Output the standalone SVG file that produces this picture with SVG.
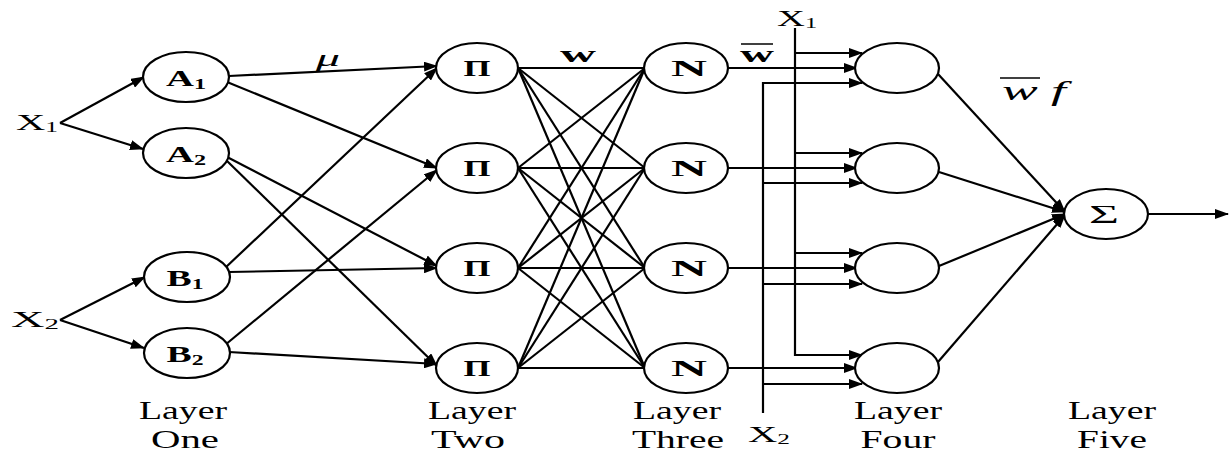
<svg xmlns="http://www.w3.org/2000/svg" width="1230" height="455" viewBox="0 0 1230 455">
<style>
  .node { fill: #fff; stroke: #000; stroke-width: 2.2; }
  .c { stroke: #000; stroke-width: 2.2; fill: none; }
  .a { stroke: #000; stroke-width: 2.2; fill: none; marker-end: url(#ah); }
  .nl { font-size: 24px; font-weight: bold; text-anchor: middle; }
  .ly { font-size: 26px; text-anchor: middle; }
  .in { font-size: 24px; }
  .sub { font-size: 15px; }
  .it { font-style: italic; }
</style>
<defs>
  <marker id="ah" markerUnits="userSpaceOnUse" markerWidth="14" markerHeight="10" refX="13" refY="5" orient="auto">
    <path d="M0,0 L14,5 L0,10 z" fill="#000"/>
  </marker>
</defs>

<g id="connectors">
  <line class="a" x1="60" y1="123" x2="144" y2="77"/>
  <line class="a" x1="60" y1="123" x2="143" y2="149"/>
  <line class="a" x1="60" y1="320" x2="145" y2="277"/>
  <line class="a" x1="60" y1="320" x2="144" y2="348"/>
  <line class="a" x1="229" y1="76" x2="437" y2="66"/>
  <line class="a" x1="227" y1="82" x2="437" y2="168"/>
  <line class="a" x1="227" y1="157" x2="437" y2="266"/>
  <line class="a" x1="226" y1="160" x2="437" y2="366"/>
  <line class="a" x1="225" y1="268" x2="437" y2="68"/>
  <line class="a" x1="229" y1="272" x2="437" y2="268"/>
  <line class="a" x1="225" y1="345" x2="437" y2="170"/>
  <line class="a" x1="229" y1="352" x2="437" y2="364"/>
  <line class="c" x1="518" y1="68" x2="645" y2="68"/>
  <line class="c" x1="518" y1="68" x2="645" y2="168"/>
  <line class="c" x1="518" y1="68" x2="645" y2="268"/>
  <line class="c" x1="518" y1="68" x2="645" y2="368"/>
  <line class="c" x1="518" y1="168" x2="645" y2="68"/>
  <line class="c" x1="518" y1="168" x2="645" y2="168"/>
  <line class="c" x1="518" y1="168" x2="645" y2="268"/>
  <line class="c" x1="518" y1="168" x2="645" y2="368"/>
  <line class="c" x1="518" y1="268" x2="645" y2="68"/>
  <line class="c" x1="518" y1="268" x2="645" y2="168"/>
  <line class="c" x1="518" y1="268" x2="645" y2="268"/>
  <line class="c" x1="518" y1="268" x2="645" y2="368"/>
  <line class="c" x1="518" y1="368" x2="645" y2="68"/>
  <line class="c" x1="518" y1="368" x2="645" y2="168"/>
  <line class="c" x1="518" y1="368" x2="645" y2="268"/>
  <line class="c" x1="518" y1="368" x2="645" y2="368"/>
  <line class="a" x1="728" y1="68" x2="857" y2="68"/>
  <line class="a" x1="728" y1="168" x2="857" y2="168"/>
  <line class="a" x1="728" y1="268" x2="857" y2="268"/>
  <line class="a" x1="728" y1="368" x2="857" y2="368"/>
  <polyline class="a" points="795,28 795,355 862,355"/>
  <line class="a" x1="795" y1="53" x2="862" y2="53"/>
  <line class="a" x1="795" y1="153" x2="862" y2="153"/>
  <line class="a" x1="795" y1="253" x2="862" y2="253"/>
  <polyline class="a" points="763,413 763,83 862,83"/>
  <line class="a" x1="763" y1="183" x2="862" y2="183"/>
  <line class="a" x1="763" y1="284" x2="862" y2="284"/>
  <line class="a" x1="763" y1="384" x2="862" y2="384"/>
  <line class="a" x1="938" y1="74" x2="1065" y2="212"/>
  <line class="a" x1="939" y1="172" x2="1065" y2="212"/>
  <line class="a" x1="939" y1="266" x2="1065" y2="214"/>
  <line class="a" x1="938" y1="362" x2="1065" y2="215"/>
  <line class="a" x1="1148" y1="214" x2="1228" y2="214"/>
  <text font-family="Liberation Serif, serif" font-style="italic" x="328" y="66" font-size="24" text-anchor="middle" textLength="24" lengthAdjust="spacingAndGlyphs">μ</text>
  <text font-family="Liberation Serif, serif" x="578" y="62" font-size="24" font-weight="bold" text-anchor="middle" textLength="36" lengthAdjust="spacingAndGlyphs">w</text>
  <text font-family="Liberation Serif, serif" x="757" y="62" font-size="24" font-weight="bold" text-anchor="middle" textLength="34" lengthAdjust="spacingAndGlyphs">w</text>
  <line x1="741" y1="44" x2="773" y2="44" stroke="#000" stroke-width="1.5"/>
  <text font-family="Liberation Serif, serif" font-style="italic" x="1002" y="100" font-size="28" textLength="64" lengthAdjust="spacingAndGlyphs">w f</text>
  <line x1="1000" y1="78" x2="1040" y2="78" stroke="#000" stroke-width="1.5"/>
  <text font-family="Liberation Serif, serif" class="in" x="777" y="26" textLength="40" lengthAdjust="spacingAndGlyphs">X<tspan class="sub" dy="2">1</tspan></text>
  <text font-family="Liberation Serif, serif" class="in" x="748" y="442" textLength="42" lengthAdjust="spacingAndGlyphs">X<tspan class="sub" dy="2">2</tspan></text>
</g>

<g id="input-x1"><text font-family="Liberation Serif, serif" class="in" x="16" y="130" textLength="42" lengthAdjust="spacingAndGlyphs">X<tspan class="sub" dy="2">1</tspan></text></g>
<g id="input-x2"><text font-family="Liberation Serif, serif" class="in" x="11" y="327" textLength="48" lengthAdjust="spacingAndGlyphs">X<tspan class="sub" dy="2">2</tspan></text></g>

<g id="A1"><ellipse class="node" cx="186" cy="77" rx="43" ry="25"/><text font-family="Liberation Serif, serif" class="nl" x="186" y="86" textLength="40" lengthAdjust="spacingAndGlyphs">A<tspan class="sub" dy="3">1</tspan></text></g>
<g id="A2"><ellipse class="node" cx="186" cy="153" rx="43" ry="25"/><text font-family="Liberation Serif, serif" class="nl" x="186" y="162" textLength="40" lengthAdjust="spacingAndGlyphs">A<tspan class="sub" dy="3">2</tspan></text></g>
<g id="B1"><ellipse class="node" cx="187" cy="277" rx="43" ry="25"/><text font-family="Liberation Serif, serif" class="nl" x="185" y="286" textLength="37" lengthAdjust="spacingAndGlyphs">B<tspan class="sub" dy="3">1</tspan></text></g>
<g id="B2"><ellipse class="node" cx="187" cy="353" rx="43" ry="25"/><text font-family="Liberation Serif, serif" class="nl" x="185" y="362" textLength="37" lengthAdjust="spacingAndGlyphs">B<tspan class="sub" dy="3">2</tspan></text></g>

<g id="P1"><ellipse class="node" cx="477" cy="68" rx="41" ry="25"/><text font-family="Liberation Serif, serif" class="nl" x="477" y="76" font-size="21" textLength="27" lengthAdjust="spacingAndGlyphs">Π</text></g>
<g id="P2"><ellipse class="node" cx="477" cy="168" rx="41" ry="25"/><text font-family="Liberation Serif, serif" class="nl" x="477" y="176" font-size="21" textLength="27" lengthAdjust="spacingAndGlyphs">Π</text></g>
<g id="P3"><ellipse class="node" cx="477" cy="268" rx="41" ry="25"/><text font-family="Liberation Serif, serif" class="nl" x="477" y="276" font-size="21" textLength="27" lengthAdjust="spacingAndGlyphs">Π</text></g>
<g id="P4"><ellipse class="node" cx="477" cy="368" rx="41" ry="25"/><text font-family="Liberation Serif, serif" class="nl" x="477" y="376" font-size="21" textLength="27" lengthAdjust="spacingAndGlyphs">Π</text></g>

<g id="N1"><ellipse class="node" cx="686" cy="68" rx="42" ry="25"/><text font-family="Liberation Serif, serif" class="nl" x="689" y="76" font-size="24" textLength="36" lengthAdjust="spacingAndGlyphs">N</text></g>
<g id="N2"><ellipse class="node" cx="686" cy="168" rx="42" ry="25"/><text font-family="Liberation Serif, serif" class="nl" x="689" y="176" font-size="24" textLength="36" lengthAdjust="spacingAndGlyphs">N</text></g>
<g id="N3"><ellipse class="node" cx="686" cy="268" rx="42" ry="25"/><text font-family="Liberation Serif, serif" class="nl" x="689" y="276" font-size="24" textLength="36" lengthAdjust="spacingAndGlyphs">N</text></g>
<g id="N4"><ellipse class="node" cx="686" cy="368" rx="42" ry="25"/><text font-family="Liberation Serif, serif" class="nl" x="689" y="376" font-size="24" textLength="36" lengthAdjust="spacingAndGlyphs">N</text></g>

<g id="L4-1"><ellipse class="node" cx="897" cy="68" rx="42" ry="25"/></g>
<g id="L4-2"><ellipse class="node" cx="897" cy="168" rx="42" ry="25"/></g>
<g id="L4-3"><ellipse class="node" cx="897" cy="268" rx="42" ry="25"/></g>
<g id="L4-4"><ellipse class="node" cx="897" cy="368" rx="42" ry="25"/></g>

<g id="Sigma"><ellipse class="node" cx="1106" cy="214" rx="42" ry="25"/><text font-family="Liberation Serif, serif" x="1104" y="223" font-size="26" text-anchor="middle" textLength="30" lengthAdjust="spacingAndGlyphs">Σ</text></g>

<g id="layer-labels" font-family="Liberation Serif, serif">
  <text class="ly" x="183" y="419" textLength="88" lengthAdjust="spacingAndGlyphs">Layer</text>
  <text class="ly" x="185" y="448" textLength="68" lengthAdjust="spacingAndGlyphs">One</text>
  <text class="ly" x="472" y="419" textLength="88" lengthAdjust="spacingAndGlyphs">Layer</text>
  <text class="ly" x="468" y="448" textLength="74" lengthAdjust="spacingAndGlyphs">Two</text>
  <text class="ly" x="677" y="419" textLength="88" lengthAdjust="spacingAndGlyphs">Layer</text>
  <text class="ly" x="678" y="448" textLength="92" lengthAdjust="spacingAndGlyphs">Three</text>
  <text class="ly" x="898" y="419" textLength="88" lengthAdjust="spacingAndGlyphs">Layer</text>
  <text class="ly" x="898" y="448" textLength="75" lengthAdjust="spacingAndGlyphs">Four</text>
  <text class="ly" x="1112" y="419" textLength="88" lengthAdjust="spacingAndGlyphs">Layer</text>
  <text class="ly" x="1112" y="448" textLength="70" lengthAdjust="spacingAndGlyphs">Five</text>
</g>
</svg>
